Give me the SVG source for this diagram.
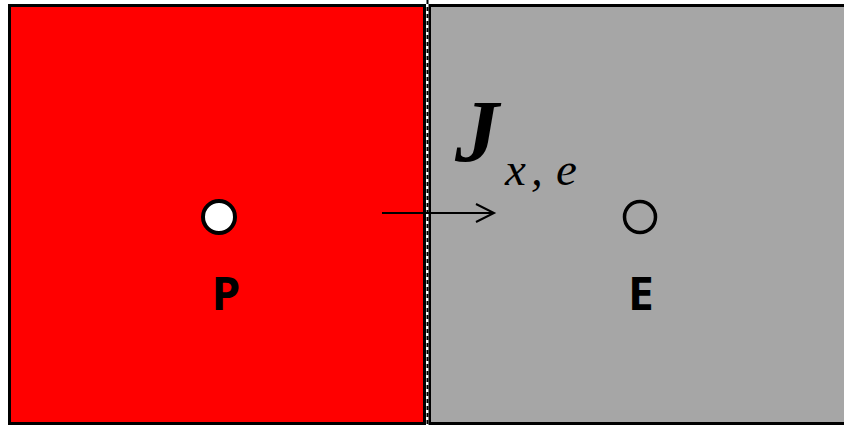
<svg xmlns="http://www.w3.org/2000/svg" width="844" height="427" viewBox="0 0 844 427">
<style>
.box{stroke:#000;stroke-width:3}
.lbl{font-family:"Open Sans","Liberation Sans",Arial,sans-serif;font-weight:bold;font-size:46px;text-anchor:middle;fill:#000}
.math{font-family:"Liberation Serif","Times New Roman",serif;fill:#000}
</style>
<defs>
<marker id="open" markerWidth="22" markerHeight="22" refX="19" refY="10" orient="auto" markerUnits="userSpaceOnUse">
<path d="M1,1 L19,10 L1,19" fill="none" stroke="#000" stroke-width="2"/>
</marker>
</defs>
<rect width="844" height="427" fill="#fff"/>
<g id="P">
<rect class="box" x="9.5" y="5.5" width="415" height="418" fill="#FF0000"/>
<circle cx="219" cy="217" r="16" fill="#fff" stroke="#000" stroke-width="4"/>
<text class="lbl" x="226" y="310">P</text>
</g>
<g id="E">
<rect class="box" x="429.5" y="5.5" width="420" height="418" fill="#A6A6A6"/>
<circle cx="640" cy="217" r="15.5" fill="none" stroke="#000" stroke-width="3.5"/>
<text class="lbl" x="641" y="310">E</text>
</g>
<g id="connectors">
<line x1="427.5" y1="0" x2="427.5" y2="427" stroke="#fff" stroke-width="2"/>
<line x1="427.5" y1="0" x2="427.5" y2="427" stroke="#000" stroke-width="2" stroke-dasharray="4 3"/>
<line x1="382" y1="213" x2="494" y2="213" stroke="#000" stroke-width="2" marker-end="url(#open)"/>
</g>
<g id="label">
<text class="math" x="455" y="161" font-size="88" font-weight="bold" font-style="italic">J</text>
<text class="math" y="185" font-size="47" font-style="italic"><tspan x="505">x</tspan><tspan x="531">,</tspan><tspan x="556">e</tspan></text>
</g>
</svg>
